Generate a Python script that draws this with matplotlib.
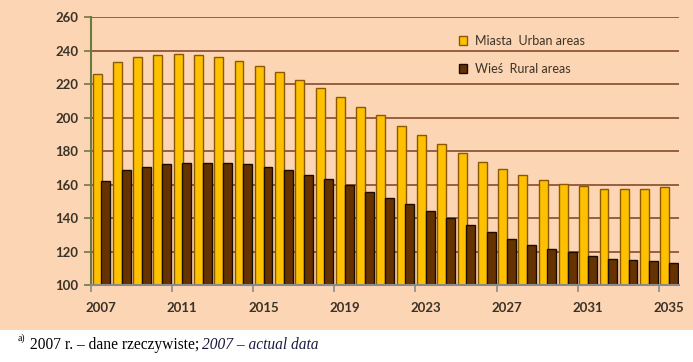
import matplotlib.pyplot as plt
import numpy as np
from matplotlib.patches import Rectangle

years = list(range(2007, 2036))
urban = [226, 233, 236, 237.3, 238, 237.3, 236, 234, 230.5, 227, 222.4, 217.6, 212,
         206.6, 201.3, 195.1, 189.7, 184.2, 178.6, 173.8, 169.2, 165.9, 162.5, 160.5,
         159.3, 157.7, 157.7, 157.7, 158.5]
rural = [162, 168.7, 170.8, 172.2, 172.8, 172.8, 172.8, 172.2, 170.8, 168.7, 166, 163.3,
         160, 155.5, 152.3, 148.4, 144.2, 140, 135.8, 131.8, 127.8, 124.3, 121.5, 119.7,
         117.3, 115.5, 114.9, 114.3, 113.5]
labels = ["Miasta  Urban areas", "Wieś  Rural areas"]

peach = "#FCD5B4"
text_col = "#3a3226"

fig = plt.figure(figsize=(6.93, 3.62), dpi=100)
fig.patches.append(Rectangle((0, 32 / 362), 1, 1, transform=fig.transFigure,
                             facecolor=peach, edgecolor="none", zorder=-5))

ax = fig.add_axes([91 / 693, 1 - 285.3 / 362, 588 / 693, 268.3 / 362])
ax.set_facecolor(peach)

x = np.arange(len(years))
w = 0.44
ax.bar(x - 0.2, urban, w, color="#FFC000", edgecolor="#8B5A00", linewidth=1.0,
       label=labels[0], zorder=3)
ax.bar(x + 0.23, rural, w, color="#663300", edgecolor="#1a0d00", linewidth=1.0,
       label=labels[1], zorder=3)

ax.set_ylim(100, 260)
ax.set_xlim(-0.5, len(years) - 0.5)
ax.set_yticks(range(100, 261, 20))
ax.yaxis.grid(True, color="#7b4020", linewidth=1.1)
ax.set_axisbelow(True)

# labels every 4 years, ticks at the left edge of those categories
ax.set_xticks(x[::4])
ax.set_xticklabels([str(y) for y in years[::4]])
ax.set_xticks(x[::4] - 0.5, minor=True)
ax.tick_params(axis="x", which="major", length=0, pad=12)
ax.tick_params(axis="x", which="minor", length=5, color="#8a8a8a", width=1.2)
ax.tick_params(axis="y", length=5, color="#6b7a45", width=1.2, pad=4)

for lab in ax.get_xticklabels() + ax.get_yticklabels():
    lab.set_fontfamily("Lato")
    lab.set_fontweight("bold")
    lab.set_fontsize(9.5)
    lab.set_color(text_col)

for s in ["top", "right"]:
    ax.spines[s].set_visible(False)
ax.spines["left"].set_color("#6b7a45")
ax.spines["left"].set_linewidth(1.5)
ax.spines["bottom"].set_color("#8a8a8a")
ax.spines["bottom"].set_linewidth(1.5)
ax.spines["bottom"].set_zorder(4)

leg = ax.legend(loc="upper left", bbox_to_anchor=(0.606, 0.975), frameon=False,
                handlelength=0.7, handleheight=0.7, handletextpad=0.6,
                labelspacing=1.25, prop={"family": "Lato", "size": 9})
for t in leg.get_texts():
    t.set_color(text_col)

fig.text(18 / 693, 1 - 341 / 362, "a)", fontsize=7, family="Liberation Serif")
fig.text(30 / 693, 1 - 349 / 362, "2007 r. – dane rzeczywiste;", fontsize=11.2,
         family="Liberation Serif")
fig.text(202 / 693, 1 - 349 / 362, "2007 – actual data", fontsize=11.2,
         family="Liberation Serif", style="italic", color="#1a1a40")

fig.savefig("out.png", dpi=100)
